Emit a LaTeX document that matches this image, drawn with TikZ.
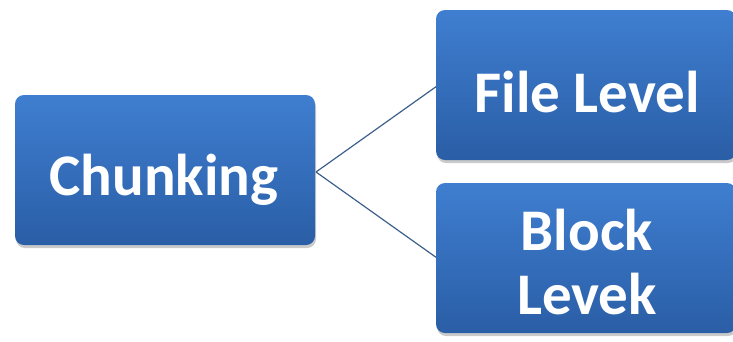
\documentclass[tikz,border=0pt]{standalone}
\usepackage{fontspec}
\setmainfont{Carlito}
\usetikzlibrary{shadows}
\definecolor{boxtop}{HTML}{3F7ED0}
\definecolor{boxbot}{HTML}{2A5EA6}
\definecolor{linkc}{HTML}{3D5F8C}
\tikzset{
  box/.style={rounded corners=9pt, top color=boxtop, bottom color=boxbot, draw=none,
    drop shadow={shadow xshift=1pt, shadow yshift=-3pt, opacity=0.35, fill=black!60}},
  lbl/.style={text=white, font=\bfseries\fontsize{59}{64}\selectfont, align=center},
  link/.style={draw=linkc, line width=1.2pt}
}
\begin{document}
\begin{tikzpicture}[x=1pt,y=-1pt]
\useasboundingbox (0,0) rectangle (733,341);
\draw[link] (316,172) coordinate (cr) -- (437,86) coordinate (fl);
\draw[link] (cr) -- (437,258) coordinate (bl);
\path[box] (15,95) rectangle (315,245);
\path[box] (436,10) rectangle (736,160);
\path[box] (436,183) rectangle (736,333);
\node[lbl] (chunk) at (164,180) {Chunking};
\node[lbl] (file) at (587,92) {File Level};
\node[lbl] (block) at (587,262) {Block\\Levek};
\end{tikzpicture}
\end{document}
